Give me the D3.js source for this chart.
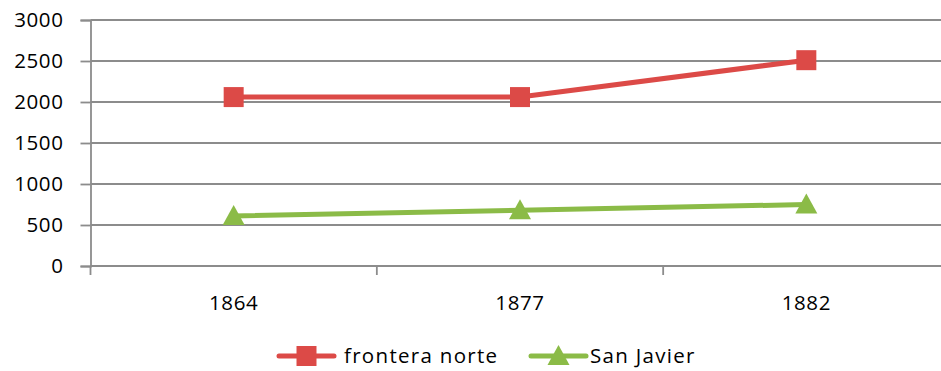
<!DOCTYPE html>
<html>
<head>
<meta charset="utf-8">
<script src="https://cdn.jsdelivr.net/npm/d3@7"></script>
<style>
  html, body { margin: 0; padding: 0; background: #fff; }
  svg text { font-family: "Open Sans", "Lato", sans-serif; fill: #000; }
</style>
</head>
<body>
<svg id="chart" width="941" height="371"></svg>
<script>
// Population by year
const years = ["1864", "1877", "1882"];
const fronteraNorte = [2060, 2060, 2510];
const sanJavier = [610, 680, 750];
const yTicks = [0, 500, 1000, 1500, 2000, 2500, 3000];
const seriesNames = ["frontera norte", "San Javier"];

const colors = { red: "#dc4a47", green: "#8bbb47", grid: "#8c8c8c" };

const svg = d3.select("#chart");
const margin = { left: 90.5, top: 20, bottom: 105 };
const plotW = 859;
const H = 371;

const x = d3.scaleBand().domain(years).range([margin.left, margin.left + plotW]);
const y = d3.scaleLinear().domain([0, 3000]).range([H - margin.bottom, margin.top]);

// horizontal gridlines
svg.append("g")
  .selectAll("line")
  .data(yTicks.filter(d => d > 0))
  .join("line")
  .attr("x1", margin.left).attr("x2", margin.left + plotW)
  .attr("y1", d => y(d)).attr("y2", d => y(d))
  .attr("stroke", colors.grid).attr("stroke-width", 1.8);

// y axis
const yAxis = svg.append("g")
  .attr("transform", `translate(${margin.left},0)`)
  .call(d3.axisLeft(y).tickValues(yTicks).tickSize(10).tickPadding(17).tickFormat(d3.format("d")));
yAxis.select(".domain").attr("stroke", colors.grid).attr("stroke-width", 1.8);
yAxis.selectAll(".tick line").attr("stroke", colors.grid).attr("stroke-width", 1.8);
yAxis.selectAll(".tick text")
  .attr("font-size", 20.5).attr("letter-spacing", "0.6px")
  .attr("font-family", '"Open Sans", sans-serif').attr("fill", "#000");

// x axis with ticks on band boundaries
const xg = svg.append("g").attr("transform", `translate(0,${y(0)})`);
xg.append("line")
  .attr("x1", margin.left).attr("x2", margin.left + plotW)
  .attr("stroke", colors.grid).attr("stroke-width", 1.8);
const bounds = years.map(d => x(d)).concat([margin.left + plotW]);
xg.selectAll(".bt")
  .data(bounds)
  .join("line")
  .attr("class", "bt")
  .attr("x1", d => d).attr("x2", d => d)
  .attr("y1", 0).attr("y2", 9)
  .attr("stroke", colors.grid).attr("stroke-width", 1.8);
xg.selectAll("text")
  .data(years)
  .join("text")
  .attr("x", d => x(d) + x.bandwidth() / 2)
  .attr("y", 44)
  .attr("text-anchor", "middle")
  .attr("font-size", 20.5).attr("letter-spacing", "0.6px")
  .text(d => d);

const cx = d => x(d) + x.bandwidth() / 2;
const line = d3.line().x(d => cx(d.year)).y(d => y(d.value));

function drawSeries(values, color, shape) {
  const pts = years.map((yr, i) => ({ year: yr, value: values[i] }));
  svg.append("path")
    .datum(pts)
    .attr("d", line)
    .attr("fill", "none")
    .attr("stroke", color)
    .attr("stroke-width", 5)
    .attr("stroke-linecap", "round");
  svg.append("g")
    .selectAll("path")
    .data(pts)
    .join("path")
    .attr("transform", d => `translate(${cx(d.year)},${y(d.value)})`)
    .attr("d", shape)
    .attr("fill", color);
}

const square = "M-10,-10H10V10H-10Z";
const triangle = "M0,-11L11,9H-11Z";

drawSeries(fronteraNorte, colors.red, square);
drawSeries(sanJavier, colors.green, triangle);

// legend
const legend = svg.append("g");
const items = [
  { name: seriesNames[0], color: colors.red, shape: square, x0: 279, tx: 344 },
  { name: seriesNames[1], color: colors.green, shape: triangle, x0: 531, tx: 590 }
];
items.forEach(it => {
  const ly = 356;
  legend.append("line")
    .attr("x1", it.x0).attr("x2", it.x0 + 55)
    .attr("y1", ly).attr("y2", ly)
    .attr("stroke", it.color).attr("stroke-width", 5).attr("stroke-linecap", "round");
  legend.append("path")
    .attr("transform", `translate(${it.x0 + 27.5},${ly})`)
    .attr("d", it.shape)
    .attr("fill", it.color);
  legend.append("text")
    .attr("x", it.tx).attr("y", ly + 7)
    .attr("font-size", 20.5).attr("letter-spacing", "1.3px")
    .text(it.name);
});
</script>
</body>
</html>
